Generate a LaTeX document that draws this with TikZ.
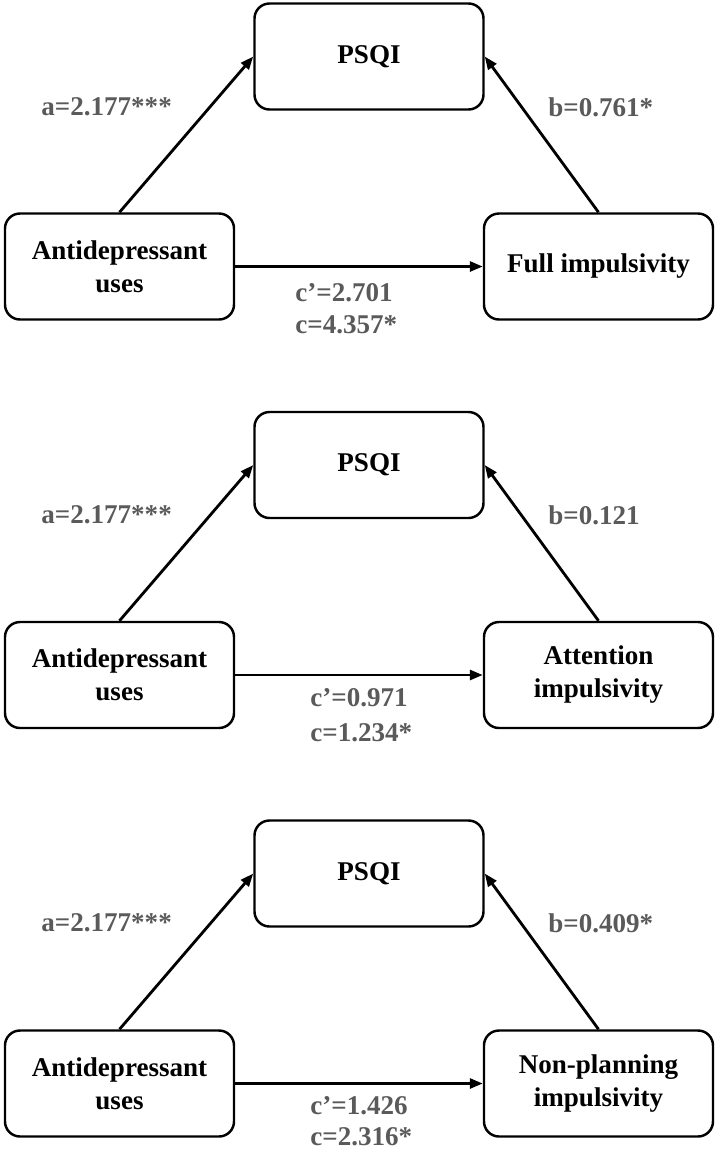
\documentclass[tikz,border=0pt]{standalone}
\usepackage{fontspec}
\setmainfont{Liberation Serif}
\usetikzlibrary{arrows.meta}
\definecolor{lblgray}{HTML}{5A5A5A}
\tikzset{
    varbox/.style = {draw, line width=1.4pt, rounded corners=0.3cm, minimum width=4.58cm,
        minimum height=2.12cm, align=center, font=\fontsize{15.4}{18.8}\selectfont\bfseries},
    coef/.style = {anchor=west, text=lblgray, inner sep=0pt, font=\fontsize{15.4}{18.8}\selectfont\bfseries},
    path/.style = {line width=1.6pt, -{Triangle[length=0.26cm, width=0.2cm]}},
}

\begin{document}
\begin{tikzpicture}
    \useasboundingbox (0,0) rectangle (14.32,-23.02);

    % Full impulsivity
    \node[varbox] (psqiA) at (7.38,-1.13) {PSQI};
    \node[varbox] (antiA) at (2.39,-5.33) {Antidepressant\\uses};
    \node[varbox] (impA) at (11.97,-5.33) {Full impulsivity};
    \draw[path] (antiA.north) -- (psqiA.west);
    \draw[path] (impA.north) -- (psqiA.east);
    \draw[path] (antiA.east) -- (impA.west);
    \node[coef] (aA) at (0.82,-2.14) {a=2.177***};
    \node[coef] (bA) at (10.96,-2.14) {b=0.761*};
    \node[coef] (cpA) at (5.9,-5.86) {c’=2.701};
    \node[coef] (cA) at (5.9,-6.5) {c=4.357*};

    % Attention impulsivity
    \node[varbox] (psqiB) at (7.38,-9.30) {PSQI};
    \node[varbox] (antiB) at (2.39,-13.50) {Antidepressant\\uses};
    \node[varbox] (impB) at (11.97,-13.50) {Attention\\impulsivity};
    \draw[path] (antiB.north) -- (psqiB.west);
    \draw[path] (impB.north) -- (psqiB.east);
    \draw[path] (antiB.east) -- (impB.west);
    \node[coef] (aB) at (0.82,-10.30) {a=2.177***};
    \node[coef] (bB) at (10.96,-10.30) {b=0.121};
    \node[coef] (cpB) at (6.2,-13.96) {c’=0.971};
    \node[coef] (cB) at (6.2,-14.66) {c=1.234*};

    % Non-planning impulsivity
    \node[varbox] (psqiC) at (7.38,-17.47) {PSQI};
    \node[varbox] (antiC) at (2.39,-21.67) {Antidepressant\\uses};
    \node[varbox] (impC) at (11.97,-21.67) {Non-planning\\impulsivity};
    \draw[path] (antiC.north) -- (psqiC.west);
    \draw[path] (impC.north) -- (psqiC.east);
    \draw[path] (antiC.east) -- (impC.west);
    \node[coef] (aC) at (0.82,-18.46) {a=2.177***};
    \node[coef] (bC) at (10.96,-18.46) {b=0.409*};
    \node[coef] (cpC) at (6.2,-22.12) {c’=1.426};
    \node[coef] (cC) at (6.2,-22.74) {c=2.316*};
\end{tikzpicture}
\end{document}
